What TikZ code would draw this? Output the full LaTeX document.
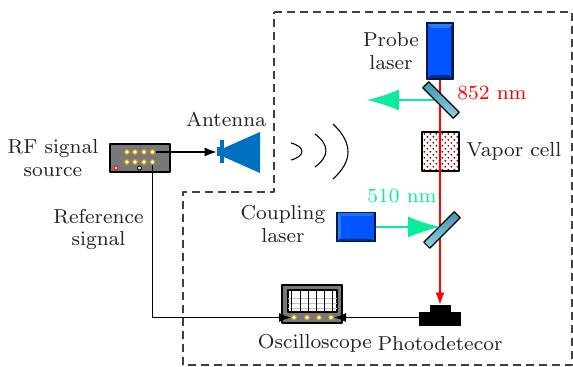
\documentclass[tikz,border=0pt]{standalone}
\usepackage{amsmath, amssymb}
\usepackage{tikz}
\usetikzlibrary{positioning,arrows.meta,patterns}

\definecolor{boxgray}{RGB}{120,120,120}
\definecolor{ledring}{RGB}{205,150,10}
\definecolor{hornblue}{RGB}{0,112,192}
\definecolor{laserblue}{RGB}{0,85,255}
\definecolor{laserlight}{RGB}{40,125,255}
\definecolor{laserdark}{RGB}{0,45,140}
\definecolor{laseredge}{RGB}{5,25,70}
\definecolor{mirrordark}{RGB}{65,150,180}
\definecolor{mirrorlight}{RGB}{140,210,225}
\definecolor{beamgreen}{RGB}{10,235,155}
\definecolor{textgray}{RGB}{35,35,35}

\font\labelfont=cmr8 at 10.1bp

\tikzset{
  txt/.style={font=\fontsize{10bp}{11.2bp}\selectfont\labelfont,text=textgray,align=center,inner sep=0pt},
  instrument/.style={draw=black,fill=boxgray,line width=0.6bp,inner sep=0pt},
  led/.style={circle,draw=ledring,fill=white,line width=0.6bp,inner sep=0pt,minimum size=2.4bp},
  laser/.style={draw=laseredge,fill=laserblue,line width=0.6bp,inner sep=0pt},
  mirror/.style={draw=black,top color=mirrordark,bottom color=mirrorlight,line width=0.6bp,inner sep=0pt,minimum width=21.5bp,minimum height=4.2bp},
  solid black/.style={fill=black,inner sep=0pt},
  bighead/.style={-{Latex[length=16bp,width=10.5bp]}},
}

\begin{document}
\begin{tikzpicture}[>={Latex[length=6bp,width=4.5bp]},line join=bevel,]
\useasboundingbox (0bp,0bp) rectangle (286.5bp,183.5bp);
%%
\draw [black!75,line width=0.6bp,dash pattern=on 4bp off 2.5bp] (137bp,177.5bp) -- (286bp,177.5bp) -- (286bp,1bp) -- (91.5bp,1bp) -- (91.5bp,87.5bp) -- (137bp,87.5bp) -- cycle;
%%
\node (source) at (70bp,104.5bp) [instrument,minimum width=30bp,minimum height=14bp] {};
  \node (sourceA) at (63.5bp,107.5bp) [led] {};
  \node (sourceB) at (67.5bp,107.5bp) [led] {};
  \node (sourceC) at (72bp,107.5bp) [led] {};
  \node (sourceD) at (76.25bp,107.5bp) [led] {};
  \node (sourceE) at (63.5bp,102.5bp) [led] {};
  \node (sourceF) at (67.5bp,102.5bp) [led] {};
  \node (sourceG) at (72bp,102.5bp) [led] {};
  \node (sourceH) at (76.25bp,102.5bp) [led] {};
  \node (sourcered) at (58bp,99.5bp) [circle,draw=red,fill=white,line width=0.5bp,inner sep=0pt,minimum size=2bp] {};
  \node (sourceblack) at (69.75bp,99.5bp) [circle,draw=black,fill=white,line width=0.5bp,inner sep=0pt,minimum size=2bp] {};
%%
\fill [hornblue] (112bp,109.5bp) -- (130bp,117.5bp) -- (130bp,97bp) -- (112bp,105bp) -- cycle;
  \node (feed) at (110.25bp,107.5bp) [fill=hornblue,inner sep=0pt,minimum width=3.5bp,minimum height=4.5bp] {};
  \node (flange) at (111bp,107.5bp) [fill=hornblue,inner sep=0pt,minimum width=2bp,minimum height=11.5bp] {};
%%
\draw [black,line width=0.55bp] (145.5bp,112bp) .. controls (152.8bp,110bp) and (152.8bp,105.5bp) .. (145.5bp,103.5bp);
  \draw [black,line width=0.55bp] (157.5bp,116.5bp) .. controls (164.8bp,111bp) and (164.8bp,105.5bp) .. (157.5bp,100bp);
  \draw [black,line width=0.55bp] (166.5bp,121.5bp) .. controls (176.5bp,112bp) and (176.5bp,103bp) .. (166.5bp,94bp);
%%
\node (probe) at (220bp,158bp) [laser,minimum width=13bp,minimum height=28bp] {};
  \fill [laserlight] (213.5bp,172bp) -- (226.5bp,172bp) -- (224.5bp,169.5bp) -- (215.5bp,169.5bp) -- cycle;
  \fill [laserdark] (213.5bp,144bp) -- (226.5bp,144bp) -- (224.5bp,146bp) -- (215.5bp,146bp) -- cycle;
  \fill [laserdark] (226.5bp,144bp) -- (226.5bp,172bp) -- (225.5bp,170bp) -- (225.5bp,146bp) -- cycle;
\node (coupling) at (178bp,70bp) [laser,minimum width=19bp,minimum height=14.5bp] {};
  \fill [laserlight] (168.5bp,62.75bp) -- (168.5bp,77.25bp) -- (170.5bp,75bp) -- (170.5bp,65bp) -- cycle;
  \fill [laserdark] (168.5bp,62.75bp) -- (187.5bp,62.75bp) -- (185.5bp,64bp) -- (170.5bp,64bp) -- cycle;
  \fill [laserlight!70!laserblue] (168.5bp,77.25bp) -- (187.5bp,77.25bp) -- (185.5bp,75.5bp) -- (170.5bp,75.5bp) -- cycle;
\node (probe frame) at (220bp,158bp) [draw=laseredge,line width=0.6bp,inner sep=0pt,minimum width=13bp,minimum height=28bp] {};
\node (coupling frame) at (178bp,70bp) [draw=laseredge,line width=0.6bp,inner sep=0pt,minimum width=19bp,minimum height=14.5bp] {};
%%
\node (cell) at (220.25bp,107.75bp) [draw=black,line width=0.7bp,inner sep=0pt,minimum width=18.5bp,minimum height=19.5bp,pattern=crosshatch dots,pattern color=black!45!red] {};
%%
\node (detector top) at (220bp,29.25bp) [solid black,minimum width=10.5bp,minimum height=3.5bp] {};
  \node (detector) at (220bp,24bp) [solid black,minimum width=21bp,minimum height=7bp] {};
%%
\node (scope) at (156bp,31.5bp) [instrument,minimum width=30bp,minimum height=19bp] {};
  \node (screen) at (156.25bp,33bp) [draw=black,fill=white,line width=0.6bp,inner sep=0pt,minimum width=24.5bp,minimum height=11bp] {};
  \draw [black!25,line width=0.3bp] (144bp,34.5bp) -- (168.5bp,34.5bp);
  \draw [black!25,line width=0.3bp] (144bp,32bp) -- (168.5bp,32bp);
  \draw [black!25,line width=0.3bp] (144bp,29.5bp) -- (168.5bp,29.5bp);
  \draw [black,line width=0.5bp] (145.85bp,27.5bp) -- (145.85bp,38.5bp);
  \draw [black,line width=0.5bp] (150bp,27.5bp) -- (150bp,38.5bp);
  \draw [black,line width=0.5bp] (154.15bp,27.5bp) -- (154.15bp,38.5bp);
  \draw [black,line width=0.5bp] (158.35bp,27.5bp) -- (158.35bp,38.5bp);
  \draw [black,line width=0.5bp] (162.15bp,27.5bp) -- (162.15bp,38.5bp);
  \draw [black,line width=0.5bp] (166.15bp,27.5bp) -- (166.15bp,38.5bp);
  \node (scopeA) at (147bp,24.75bp) [led] {};
  \node (scopeB) at (153.5bp,24.75bp) [led] {};
  \node (scopeC) at (159.5bp,24.75bp) [led] {};
  \node (scopeD) at (165.5bp,24.75bp) [led] {};
%%
\coordinate (beamtip) at (183.5bp,133.5bp);
  \coordinate (beamhit) at (220bp,70bp);
  \coordinate (mirrortopmid) at (220.5bp,133.5bp);
  \draw [red,line width=0.55bp,->] (probe) -- (detector top);
  \draw [beamgreen,line width=0.55bp,bighead] (mirrortopmid) -- (beamtip);
  \node (mirrortop) at (mirrortopmid) [mirror,rotate=-45] {};
  \node (mirrorlow) at (221bp,68.5bp) [mirror,rotate=45] {};
  \draw [beamgreen,line width=0.55bp,bighead] (coupling) -- (beamhit);
%%
\draw [black,line width=0.55bp,->] (sourceD) -- (feed);
  \draw [black,line width=0.55bp,->] (sourceH) |- (scopeA);
  \draw [black,line width=0.55bp,->] (detector.west |- scopeD) -- (scopeD);
%%
\node (rf label) at (26.5bp,104.5bp) [txt] {RF signal\\source};
  \node (reference label) at (49.25bp,68.75bp) [txt] {Reference\\signal};
  \node (antenna label) at (113bp,123.5bp) [txt] {Antenna};
  \node (probe label) at (195.5bp,158bp) [txt] {Probe\\laser};
  \node (nm852) at (246bp,137bp) [txt,text=red] {852 nm};
  \node (cell label) at (257bp,108bp) [txt] {Vapor cell};
  \node (nm510) at (201bp,85.5bp) [txt,text=beamgreen] {510 nm};
  \node (coupling label) at (141.5bp,71.5bp) [txt] {Coupling\\laser};
  \node (scope label) at (157.5bp,12bp) [txt] {Oscilloscope};
  \node (detector label) at (220bp,12bp) [txt] {Photodetecor};
%
\end{tikzpicture}
\end{document}
